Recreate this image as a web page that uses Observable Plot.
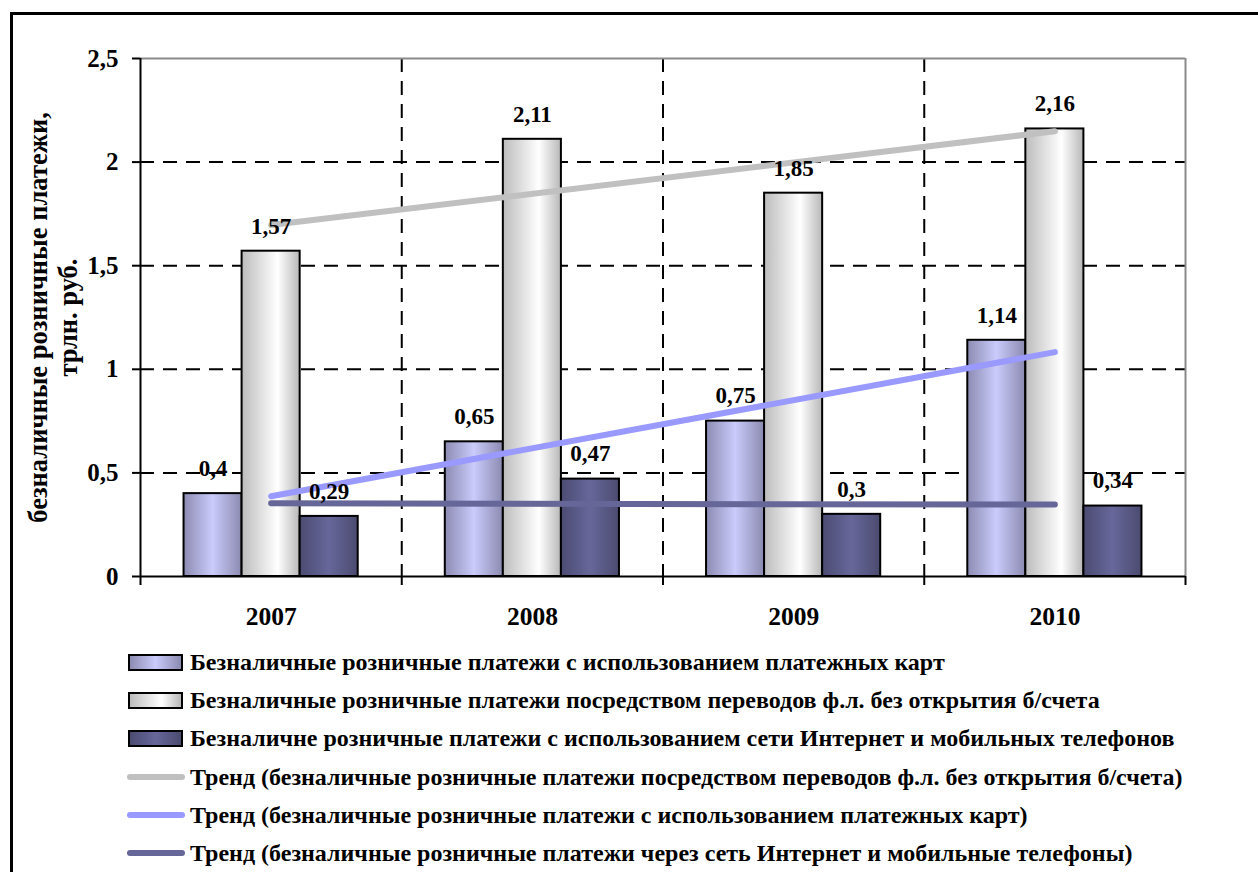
<!DOCTYPE html>
<html>
<head>
<meta charset="utf-8">
<script src="https://cdn.jsdelivr.net/npm/d3@7"></script>
<script src="https://cdn.jsdelivr.net/npm/@observablehq/plot@0.6"></script>
<style>
  html, body { margin: 0; padding: 0; background: #fff; overflow: hidden; }
  body { width: 1258px; height: 872px; position: relative;
         font-family: "Liberation Serif", "Times New Roman", Tinos, "DejaVu Serif", serif; }
  #frame { position: absolute; left: 10px; top: 12px; width: 1300px; height: 900px;
           border-left: 3px solid #000; border-top: 3px solid #000; }
  #chart { position: absolute; left: 0; top: 0; }
  .row { position: absolute; left: 0; height: 20px; font-weight: bold; font-size: 24px;
         white-space: nowrap; color: #000; }
  .row span { position: absolute; left: 190px; top: 50%; transform: translateY(-50%); line-height: 1; }
  .box { position: absolute; left: 128px; top: 2px; width: 51px; height: 13px; border: 2px solid #000; }
  .ln { position: absolute; left: 127px; top: 7px; width: 58px; height: 6px; border-radius: 3px; }
</style>
</head>
<body>
<div id="frame"></div>
<div id="chart"></div>
<div id="legend"></div>
<script>
// Years on the category axis
const years = [2007, 2008, 2009, 2010];

// Retail cashless payments, trillion roubles
const cards = [0.4, 0.65, 0.75, 1.14];       // payment cards
const transfers = [1.57, 2.11, 1.85, 2.16];  // transfers without opening an account
const internet = [0.29, 0.47, 0.3, 0.34];    // Internet and mobile phones

const seriesKeys = ["cards", "transfers", "internet"];
const seriesLabels = [
  "Безналичные розничные платежи с использованием платежных карт",
  "Безналичные розничные платежи посредством переводов ф.л. без открытия б/счета",
  "Безналичне розничные платежи с использованием сети Интернет и мобильных телефонов"
];
const trendKeys = ["transfers", "cards", "internet"];
const trendLabels = [
  "Тренд (безналичные розничные платежи посредством переводов ф.л. без открытия б/счета)",
  "Тренд (безналичные розничные платежи с использованием платежных карт)",
  "Тренд (безналичные розничные платежи через сеть Интернет и мобильные телефоны)"
];
const yTicks = [0, 0.5, 1, 1.5, 2, 2.5];
const yLabel = "безналичные розничные платежи,\nтрлн. руб.";

// Styling
const font = "'Liberation Serif', 'Times New Roman', Tinos, 'DejaVu Serif', serif";
const gradients = {
  cards:     [[0, "#8b8bb2"], [0.5, "#cbcbfc"], [1, "#8a8ab0"]],
  transfers: [[0, "#bcbcbc"], [0.62, "#ffffff"], [1, "#b8b8b8"]],
  internet:  [[0, "#4b4b72"], [0.5, "#67679b"], [1, "#4b4b70"]]
};
const trendColors = { transfers: "#c0c0c0", cards: "#9999ff", internet: "#666699" };

const seriesValues = { cards, transfers, internet };
const rows = [];
years.forEach((year, k) => seriesKeys.forEach((series, i) => {
  rows.push({ year, series, i, value: seriesValues[series][k] });
}));

// three adjacent bars per year with a gap of 1.5 bar widths
const bw = 1 / 4.5;
const left = d => d.year - 1.5 * bw + d.i * bw;
const comma = v => String(v).replace(".", ",");
const grid = { stroke: "#000", strokeWidth: 2, strokeDasharray: "14,9" };

const chart = Plot.plot({
  width: 1258,
  height: 640,
  marginLeft: 140,
  marginRight: 73,
  marginTop: 58,
  marginBottom: 64,
  style: { fontFamily: font, fontSize: "24px", fontWeight: "bold", color: "#000",
           background: "transparent", overflow: "visible" },
  x: { domain: [2006.5, 2010.5] },
  y: { domain: [0, 2.5] },
  marks: [
    Plot.ruleY([0.5, 1, 1.5, 2], grid),
    Plot.ruleX([2007.5, 2008.5, 2009.5], grid),
    Plot.ruleY([2.5], { stroke: "#8a8a8a", strokeWidth: 2 }),
    Plot.ruleX([2010.5], { stroke: "#8a8a8a", strokeWidth: 2 }),
    Plot.rect(rows, {
      x1: left,
      x2: d => left(d) + bw,
      y1: () => 0,
      y2: "value",
      fill: d => `url(#grad-${d.series})`,
      stroke: "#000",
      strokeWidth: 2
    }),
    ...trendKeys.map(s => Plot.linearRegressionY(rows.filter(d => d.series === s), {
      x: "year", y: "value", ci: 0,
      stroke: trendColors[s], strokeWidth: 6, strokeLinecap: "round"
    })),
    Plot.text(rows, {
      x: d => left(d) + bw / 2,
      y: "value",
      text: d => comma(d.value),
      dy: -25,
      fontSize: 23,
      fontWeight: "bold",
      fill: "#000"
    }),
    Plot.axisY({ ticks: yTicks, tickSize: 8, tickPadding: 14, tickFormat: comma,
                 label: null, fontSize: 25, fontWeight: "bold", strokeWidth: 2 }),
    Plot.axisX({ ticks: years, tickSize: 0, tickPadding: 30, tickFormat: d => String(d),
                 label: null, fontSize: 25.5, fontWeight: "bold" }),
    Plot.axisX({ ticks: [2006.5, 2007.5, 2008.5, 2009.5, 2010.5], tickSize: 9,
                 tickFormat: () => "", label: null, strokeWidth: 2 }),
    Plot.ruleX([2006.5], { stroke: "#000", strokeWidth: 2 }),
    Plot.ruleY([0], { stroke: "#000", strokeWidth: 2 }),
    Plot.text([yLabel], {
      frameAnchor: "left", dx: -88, rotate: -90, lineHeight: 1.15,
      textAnchor: "middle", lineAnchor: "middle",
      fontSize: 26.5, fontWeight: "bold", fill: "#000"
    })
  ]
});

// horizontal shading for the bars
const defs = d3.select(chart).insert("defs", ":first-child");
for (const [key, stops] of Object.entries(gradients)) {
  const g = defs.append("linearGradient").attr("id", `grad-${key}`)
    .attr("x1", 0).attr("x2", 1).attr("y1", 0).attr("y2", 0);
  for (const [o, c] of stops) g.append("stop").attr("offset", o).attr("stop-color", c);
}
document.getElementById("chart").append(chart);

// legend under the chart
const legend = d3.select("#legend");
const css = stops => `linear-gradient(to right, ${stops.map(([o, c]) => `${c} ${o * 100}%`).join(", ")})`;
const entries = [
  ...seriesKeys.map((k, i) => ({ label: seriesLabels[i], box: gradients[k] })),
  ...trendKeys.map((k, i) => ({ label: trendLabels[i], line: trendColors[k] }))
];
entries.forEach((e, i) => {
  const row = legend.append("div").attr("class", "row").style("top", `${652 + i * 38.2}px`);
  if (e.box) row.append("div").attr("class", "box").style("background", css(e.box));
  else row.append("div").attr("class", "ln").style("background", e.line);
  row.append("span").text(e.label);
});
</script>
</body>
</html>
